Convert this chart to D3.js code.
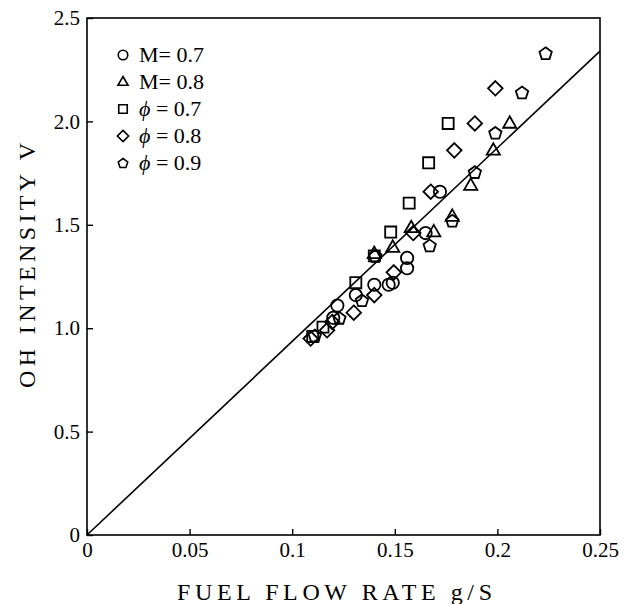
<!DOCTYPE html>
<html>
<head>
<meta charset="utf-8">
<script src="https://cdn.jsdelivr.net/npm/d3@7"></script>
<style>
  body { margin: 0; background: #fff; }
  svg { display: block; }
  text { font-family: "Liberation Serif", "Times New Roman", serif; fill: #000; }
</style>
</head>
<body>
<div id="chart"></div>
<script>
// values: [fuel flow g/s, OH intensity V]
var m07 = [[0.120, 1.05], [0.122, 1.11], [0.131, 1.16], [0.140, 1.21], [0.147, 1.21],
           [0.149, 1.22], [0.156, 1.29], [0.156, 1.34], [0.165, 1.46], [0.172, 1.66]];
var m08 = [[0.140, 1.36], [0.149, 1.39], [0.158, 1.485], [0.169, 1.465], [0.178, 1.54],
           [0.187, 1.69], [0.198, 1.86], [0.206, 1.99]];
var phi07 = [[0.110, 0.96], [0.115, 1.005], [0.131, 1.22], [0.140, 1.35], [0.148, 1.465],
             [0.157, 1.605], [0.1665, 1.80], [0.176, 1.99]];
var phi08 = [[0.109, 0.95], [0.117, 0.99], [0.1195, 1.03], [0.130, 1.075], [0.140, 1.16],
             [0.1495, 1.27], [0.159, 1.46], [0.1675, 1.66], [0.179, 1.86], [0.189, 1.99], [0.199, 2.16]];
var phi09 = [[0.111, 0.965], [0.123, 1.05], [0.134, 1.135], [0.1405, 1.35], [0.167, 1.40],
             [0.178, 1.52], [0.189, 1.755], [0.199, 1.945], [0.212, 2.14], [0.2235, 2.33]];

var seriesLabels = ["M= 0.7", "M= 0.8", "\u03d5 = 0.7", "\u03d5 = 0.8", "\u03d5 = 0.9"];
var seriesShapes = ["circle", "triangle", "square", "diamond", "pentagon"];

var fitX = [0, 0.25];
var fitY = [0, 2.34];

var xTicks = [0, 0.05, 0.1, 0.15, 0.2, 0.25];
var xTickLabels = ["0", "0.05", "0.1", "0.15", "0.2", "0.25"];
var yTicks = [0, 0.5, 1.0, 1.5, 2.0, 2.5];
var yTickLabels = ["0", "0.5", "1.0", "1.5", "2.0", "2.5"];

(function() {
    var width = 636, height = 604;
    var plotL = 87, plotR = 600, plotT = 18, plotB = 535;

    var svg = d3.select("#chart").append("svg")
        .attr("width", width)
        .attr("height", height);

    var x = d3.scaleLinear().domain([0, 0.25]).range([plotL, plotR]);
    var y = d3.scaleLinear().domain([0, 2.5]).range([plotB, plotT]);

    // marker outlines, s = overall size
    function shapePath(type, s) {
        var r = s / 2;
        if (type === "circle") {
            var p = d3.path();
            p.arc(0, 0, r * 0.95, 0, 2 * Math.PI);
            p.closePath();
            return p.toString();
        }
        if (type === "square") {
            var h = r * 0.85;
            return "M" + (-h) + "," + (-h) + "H" + h + "V" + h + "H" + (-h) + "Z";
        }
        if (type === "diamond") {
            var d = r * 1.12;
            return "M0," + (-d) + "L" + d + ",0L0," + d + "L" + (-d) + ",0Z";
        }
        if (type === "triangle") {
            var t = r * 1.1;
            return "M0," + (-t) + "L" + (t * 0.92) + "," + (t * 0.6) + "L" + (-t * 0.92) + "," + (t * 0.6) + "Z";
        }
        // pentagon, point up
        var pts = d3.range(5).map(function(i) {
            var a = -Math.PI / 2 + i * 2 * Math.PI / 5;
            return [r * Math.cos(a), r * Math.sin(a) + r * 0.1];
        });
        return "M" + pts.map(function(q) { return q[0].toFixed(2) + "," + q[1].toFixed(2); }).join("L") + "Z";
    }

    // frame
    svg.append("rect")
        .attr("x", plotL)
        .attr("y", plotT)
        .attr("width", plotR - plotL)
        .attr("height", plotB - plotT)
        .attr("fill", "none")
        .attr("stroke", "#000")
        .attr("stroke-width", 1.6);

    // axes, ticks pointing inward
    var xAxis = d3.axisBottom(x)
        .tickValues(xTicks)
        .tickFormat(function(d, i) { return xTickLabels[i]; })
        .tickSizeInner(-6)
        .tickSizeOuter(0)
        .tickPadding(7);

    var yAxis = d3.axisLeft(y)
        .tickValues(yTicks)
        .tickFormat(function(d, i) { return yTickLabels[i]; })
        .tickSizeInner(-6)
        .tickSizeOuter(0)
        .tickPadding(7);

    var gx = svg.append("g")
        .attr("transform", "translate(0," + plotB + ")")
        .call(xAxis);
    var gy = svg.append("g")
        .attr("transform", "translate(" + plotL + ",0)")
        .call(yAxis);

    [gx, gy].forEach(function(g) {
        g.select(".domain").remove();
        g.selectAll(".tick line").attr("stroke", "#000").attr("stroke-width", 1.4);
        g.selectAll(".tick text")
            .attr("font-size", 21)
            .attr("font-family", "'Liberation Serif', 'Times New Roman', serif")
            .attr("fill", "#000");
    });

    // fitted line
    var line = d3.line()
        .x(function(d) { return x(d); })
        .y(function(d, i) { return y(fitY[i]); });

    svg.append("path")
        .datum(fitX)
        .attr("d", line)
        .attr("fill", "none")
        .attr("stroke", "#000")
        .attr("stroke-width", 1.6);

    // points
    var allSeries = [m07, m08, phi07, phi08, phi09];

    svg.append("g")
        .selectAll("g")
        .data(allSeries)
        .enter()
        .append("g")
        .each(function(series, si) {
            d3.select(this).selectAll("path")
                .data(series)
                .enter()
                .append("path")
                .attr("d", shapePath(seriesShapes[si], 13))
                .attr("transform", function(d) { return "translate(" + x(d[0]) + "," + y(d[1]) + ")"; })
                .attr("fill", "none")
                .attr("stroke", "#000")
                .attr("stroke-width", 1.8);
        });

    // legend
    var legend = svg.append("g")
        .selectAll("g")
        .data(seriesLabels)
        .enter()
        .append("g")
        .attr("transform", function(d, i) { return "translate(123," + (55 + i * 27) + ")"; });

    legend.append("path")
        .attr("d", function(d, i) { return shapePath(seriesShapes[i], 10); })
        .attr("fill", "none")
        .attr("stroke", "#000")
        .attr("stroke-width", 1.6);

    legend.append("text")
        .attr("x", 16)
        .attr("y", 7)
        .attr("font-size", 22)
        .each(function(d) {
            var t = d3.select(this);
            if (d.charAt(0) === "\u03d5") {
                t.append("tspan").attr("font-style", "italic").text("\u03d5");
                t.append("tspan").text(d.slice(1));
            } else {
                t.text(d);
            }
        });

    // axis titles
    svg.append("text")
        .attr("x", 177)
        .attr("y", 600)
        .attr("font-size", 24)
        .attr("textLength", 315)
        .attr("lengthAdjust", "spacing")
        .text("FUEL FLOW RATE g/S");

    svg.append("text")
        .attr("transform", "translate(35,388) rotate(-90)")
        .attr("font-size", 24)
        .attr("textLength", 245)
        .attr("lengthAdjust", "spacing")
        .text("OH INTENSITY V");
})();
</script>
</body>
</html>
